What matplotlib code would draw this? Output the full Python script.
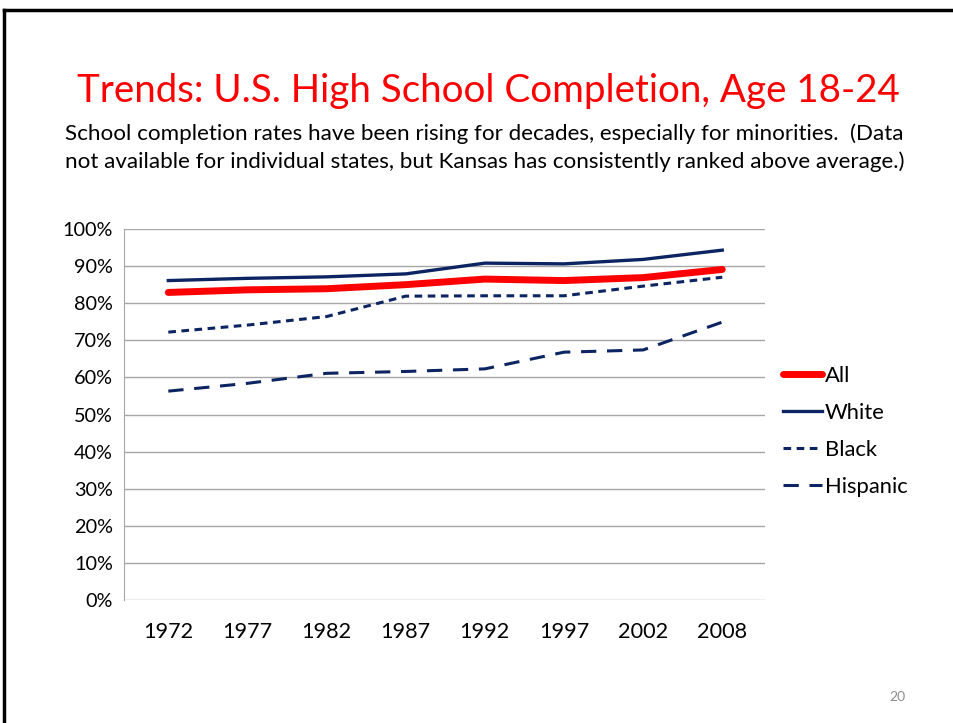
import numpy as np
import matplotlib.pyplot as plt
from matplotlib.lines import Line2D

plt.rcParams['font.family'] = ['Lato', 'DejaVu Sans']

years = ['1972', '1977', '1982', '1987', '1992', '1997', '2002', '2008']
all_rate = [82.9, 83.6, 83.9, 85.0, 86.5, 86.1, 86.9, 89.1]
white_rate = [86.1, 86.7, 87.1, 87.9, 90.8, 90.6, 91.8, 94.3]
black_rate = [72.2, 74.1, 76.4, 81.9, 82.0, 82.0, 84.6, 87.0]
hispanic_rate = [56.3, 58.4, 61.1, 61.6, 62.3, 66.8, 67.4, 74.9]

navy = '#0c2461'
red = '#ff0000'

fig = plt.figure(figsize=(9.54, 7.23), dpi=100)

# рамка слайда (слева и сверху)
fig.add_artist(Line2D([0.0045, 0.0045], [0, 1 - 10 / 723], color='black', lw=2.5, transform=fig.transFigure))
fig.add_artist(Line2D([0.0045, 1.0], [1 - 10 / 723, 1 - 10 / 723], color='black', lw=2.5, transform=fig.transFigure))

fig.text(0.512, 1 - 91 / 723, 'Trends: U.S. High School Completion, Age 18-24',
         color=red, fontsize=27.7, ha='center', va='center')
fig.text(0.508, 1 - 134 / 723, 'School completion rates have been rising for decades, especially for minorities.  (Data',
         fontsize=16.1, ha='center', va='center')
fig.text(0.508, 1 - 162 / 723, 'not available for individual states, but Kansas has consistently ranked above average.)',
         fontsize=16.1, ha='center', va='center')
fig.text(897 / 954, 1 - 697 / 723, '20', color='#8c8c8c', fontsize=10, ha='center', va='center')

ax = fig.add_axes([124 / 954, 1 - 600 / 723, (765 - 124) / 954, (600 - 229) / 723])
x = np.arange(len(years))

ax.plot(x, np.array(hispanic_rate) / 100, color=navy, lw=2.2, dashes=(5, 3.5), label='Hispanic')
ax.plot(x, np.array(black_rate) / 100, color=navy, lw=2.2, dashes=(2.5, 1.8), label='Black')
ax.plot(x, np.array(white_rate) / 100, color=navy, lw=2.4, label='White')
ax.plot(x, np.array(all_rate) / 100, color=red, lw=5, solid_capstyle='round', label='All')

ax.set_ylim(0, 1)
ax.set_xlim(-0.56, 7.54)
ax.set_yticks(np.arange(0, 1.01, 0.1))
ax.set_yticklabels([f'{int(v)}%' for v in np.arange(0, 101, 10)], fontsize=14.3)
ax.set_xticks(x)
ax.set_xticklabels(years, fontsize=15.6)
ax.tick_params(length=0)
ax.tick_params(axis='x', pad=16)
ax.tick_params(axis='y', pad=8)
ax.grid(axis='y', color='#a6a6a6', lw=1)
ax.set_axisbelow(True)
for s in ['top', 'right', 'bottom']:
    ax.spines[s].set_visible(False)
ax.spines['left'].set_color('#a6a6a6')

handles, labels = ax.get_legend_handles_labels()
order = [3, 2, 1, 0]
ax.legend([handles[i] for i in order], [labels[i] for i in order],
          loc='center left', bbox_to_anchor=(1.028, 0.455), frameon=False,
          borderaxespad=0, borderpad=0,
          fontsize=15.8, handlelength=1.8, handletextpad=0.1, labelspacing=0.78)

fig.savefig('out.png', dpi=100)
